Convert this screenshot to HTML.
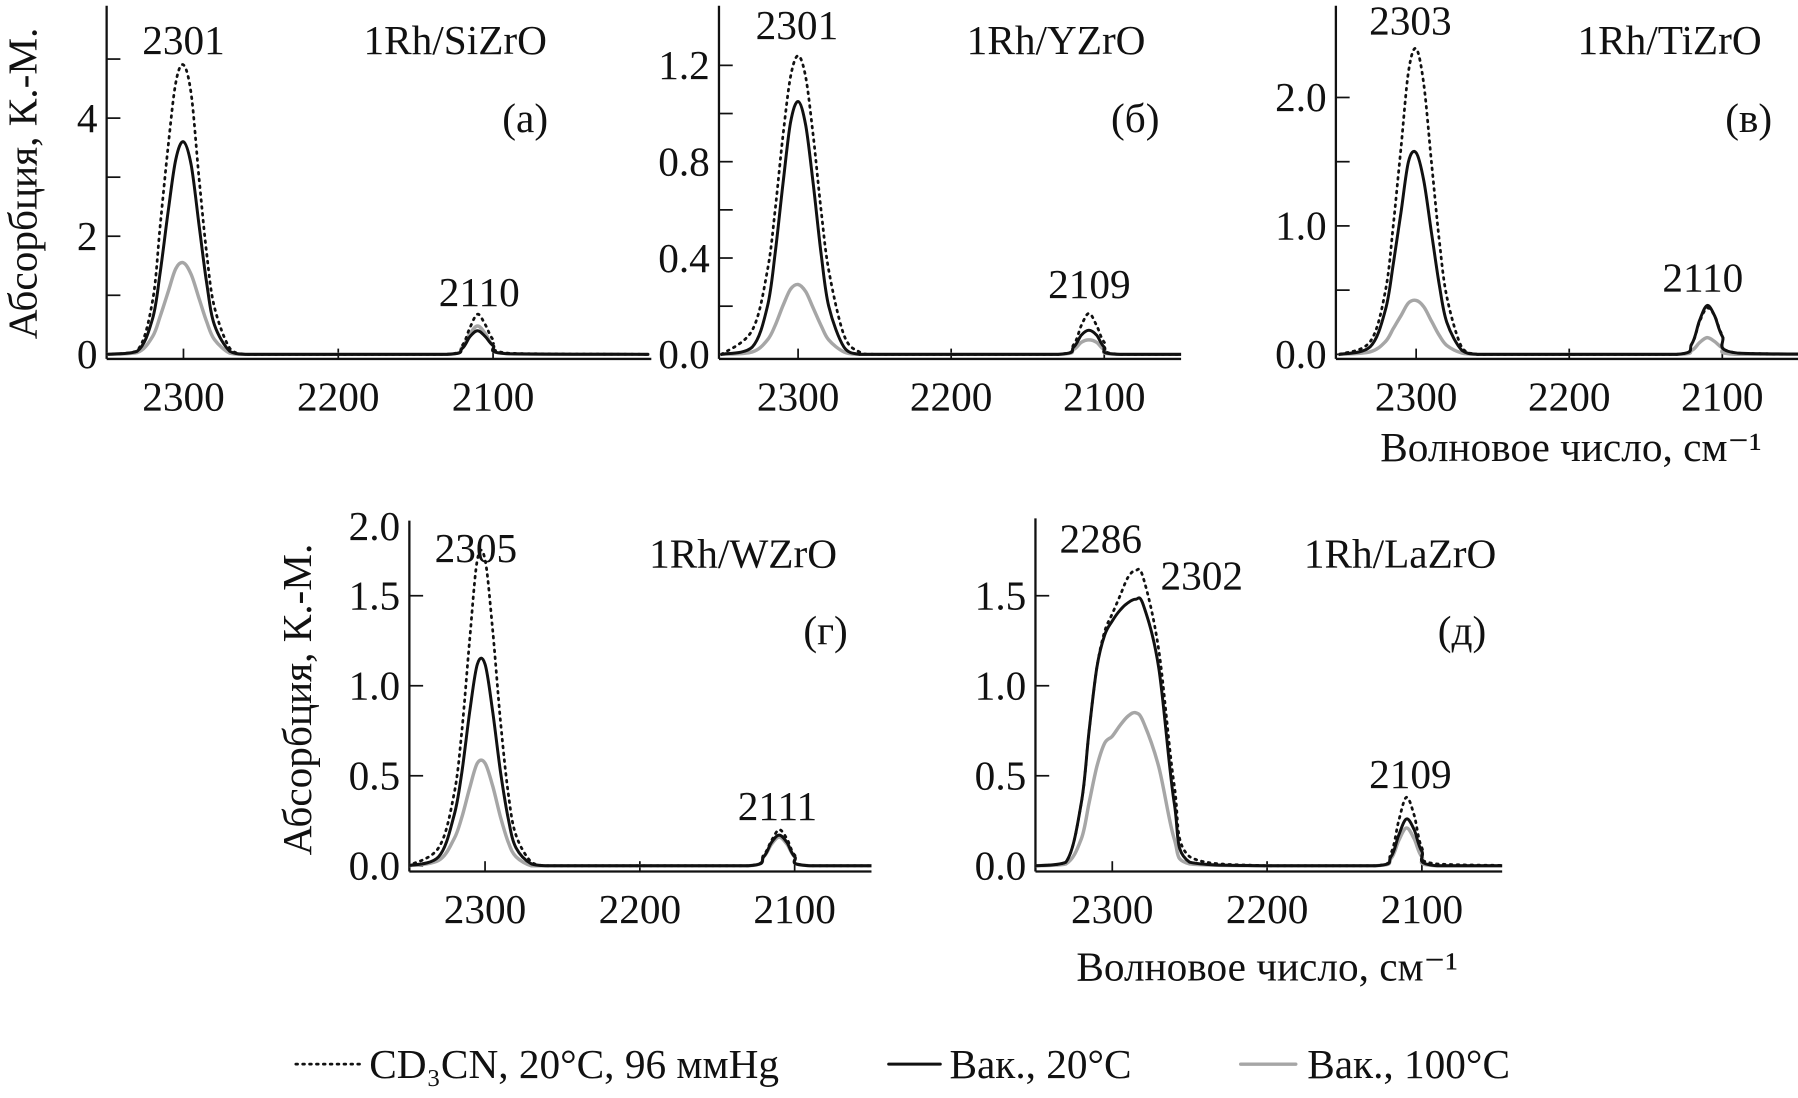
<!DOCTYPE html>
<html><head><meta charset="utf-8"><style>
html,body{margin:0;padding:0;background:#fff}
svg{display:block}
text{font-family:"Liberation Serif",serif;fill:#111}
</style></head><body>
<svg id="chart" width="1798" height="1098" viewBox="0 0 1568 957.5" preserveAspectRatio="none" xmlns="http://www.w3.org/2000/svg"></svg>
<script>
// shared wavenumber grid
const wavenumbers=[2350,2330,2320,2315,2310,2305,2300,2295,2290,2285,2280,2270,2260,2250,2200,2130,2120,2115,2110,2105,2100,2090,2000];
// panel a: 1Rh/SiZrO
const aDotted=[0,0.06,0.9,2.2,3.5,4.6,4.9,4.4,3.0,1.7,0.8,0.1,0,0,0,0,0.15,0.45,0.68,0.5,0.25,0.02,0];
const aBlack=[0,0.05,0.6,1.4,2.4,3.3,3.6,3.2,2.2,1.2,0.5,0.05,0,0,0,0,0.1,0.3,0.4,0.3,0.15,0.01,0];
const aGray=[0,0.03,0.3,0.65,1.05,1.45,1.55,1.35,0.95,0.55,0.25,0.02,0,0,0,0,0.12,0.35,0.48,0.35,0.15,0.01,0];
// panel b: 1Rh/YZrO
const bDotted=[0,0.1,0.35,0.6,0.9,1.15,1.24,1.15,0.9,0.6,0.35,0.08,0.01,0,0,0,0.04,0.12,0.17,0.12,0.05,0,0];
const bBlack=[0,0.03,0.2,0.42,0.7,0.96,1.05,0.95,0.7,0.42,0.2,0.03,0,0,0,0,0.03,0.08,0.1,0.08,0.03,0,0];
const bGray=[0,0.01,0.06,0.12,0.2,0.27,0.29,0.26,0.19,0.12,0.06,0.01,0,0,0,0,0.02,0.05,0.06,0.05,0.02,0,0];
// panel c: 1Rh/TiZrO
const cDotted=[0,0.1,0.5,1.0,1.6,2.2,2.38,2.1,1.5,0.9,0.45,0.05,0,0,0,0,0.08,0.25,0.36,0.3,0.15,0.01,0];
const cBlack=[0,0.06,0.35,0.7,1.1,1.5,1.57,1.35,0.95,0.55,0.25,0.03,0,0,0,0,0.08,0.26,0.38,0.3,0.14,0.01,0];
const cGray=[0,0.02,0.1,0.2,0.3,0.4,0.42,0.37,0.26,0.15,0.07,0.01,0,0,0,0,0.03,0.09,0.13,0.1,0.05,0,0];
// panel г: 1Rh/WZrO
const gDotted=[0,0.1,0.4,0.75,1.25,1.7,1.7,1.3,0.8,0.4,0.17,0.02,0,0,0,0,0.06,0.14,0.2,0.15,0.06,0,0];
const gBlack=[0,0.05,0.28,0.52,0.85,1.12,1.12,0.85,0.52,0.26,0.1,0.01,0,0,0,0,0.05,0.13,0.17,0.13,0.05,0,0];
const gGray=[0,0.03,0.15,0.27,0.43,0.57,0.57,0.44,0.27,0.13,0.05,0,0,0,0,0,0.05,0.12,0.16,0.12,0.05,0,0];
// panel д: 1Rh/LaZrO
const dDotted=[0,0.02,0.35,0.75,1.1,1.3,1.4,1.5,1.6,1.64,1.6,1.2,0.45,0.05,0,0,0.07,0.25,0.38,0.28,0.1,0.01,0];
const dBlack=[0,0.02,0.35,0.75,1.1,1.28,1.36,1.42,1.46,1.48,1.45,1.1,0.35,0.02,0,0,0.05,0.17,0.26,0.2,0.08,0,0];
const dGray=[0,0.01,0.15,0.35,0.55,0.68,0.72,0.78,0.83,0.85,0.8,0.55,0.15,0.01,0,0,0.04,0.14,0.21,0.15,0.05,0,0];
// tick values
const xTicks=[2300,2200,2100];
const aYTicks=[0,1,2,3,4,5], aYLabels=["0","","2","","4",""];
const bYTicks=[0,0.2,0.4,0.6,0.8,1.0,1.2], bYLabels=["0.0","","0.4","","0.8","","1.2"];
const cYTicks=[0,0.5,1.0,1.5,2.0], cYLabels=["0.0","","1.0","","2.0"];
const gYTicks=[0,0.5,1.0,1.5], gYLabels=["0.0","0.5","1.0","1.5"];
const dYTicks=[0,0.5,1.0,1.5], dYLabels=["0.0","0.5","1.0","1.5"];

const FS=36;
const NS="http://www.w3.org/2000/svg";
const svg=document.getElementById('chart');
const defs=document.createElementNS(NS,'defs');svg.appendChild(defs);
function mk(tag,attrs,parent){const e=document.createElementNS(NS,tag);for(const k in attrs)e.setAttribute(k,attrs[k]);(parent||svg).appendChild(e);return e;}
function txt(s,x,y,size,anchor,name,parent){const t=mk('text',{x:x,y:y,'font-size':size,'text-anchor':anchor||'middle'},parent);t.textContent=s;


return t;}
let clipN=0;
function panel(p){
  const g=mk('g',{});
  
  
  const sx=v=>p.x2300+(2300-v)*p.pxPerCm;
  const sy=v=>p.y0-v*p.pxPerUnit;
  const cid='clip'+(clipN++);
  const cp=mk('clipPath',{id:cid},defs);
  mk('rect',{x:p.ax,y:p.top-60,width:p.xEnd-p.ax,height:p.axY-p.top+60},cp);
  const ya=mk('line',{x1:p.ax,y1:p.top,x2:p.ax,y2:p.axY,stroke:'#111','stroke-width':2},g);
  
  
  const xa=mk('line',{x1:p.ax,y1:p.axY,x2:p.xEnd,y2:p.axY,stroke:'#111','stroke-width':2},g);
  
  
  xTicks.forEach(v=>{const l=mk('line',{x1:sx(v),y1:p.axY,x2:sx(v),y2:p.axY-9,stroke:'#111','stroke-width':1.5},g);
    
    
    txt(String(v),sx(v),p.axY+45,FS,'middle','x-tick-label',g);});
  p.yTicks.forEach((v,i)=>{const l=mk('line',{x1:p.ax,y1:sy(v),x2:p.ax+12,y2:sy(v),stroke:'#111','stroke-width':1.5},g);
    
    
    if(p.yLabels[i])txt(p.yLabels[i],p.ax-8,sy(v)+12,FS,'end','y-tick-label',g);});
  const cg=mk('g',{'clip-path':'url(#'+cid+')'},g);
  const series=[[p.gray,'#a6a6a6','',3,'series-vac-100c'],[p.black,'#111','',2.6,'series-vac-20c'],[p.dotted,'#111','1.5 4.5',2.4,'series-cd3cn']];
  series.forEach(([vals,col,dash,w,nm])=>{
    const pts=wavenumbers.map((v,i)=>[sx(v),sy(vals[i])]);
    let d='M'+pts[0][0].toFixed(1)+','+pts[0][1].toFixed(1);
    for(let i=0;i<pts.length-1;i++){const p0=pts[Math.max(0,i-1)],p1=pts[i],p2=pts[i+1],p3=pts[Math.min(pts.length-1,i+2)];
      const c1x=p1[0]+(p2[0]-p0[0])/6,c1y=p1[1]+(p2[1]-p0[1])/6,c2x=p2[0]-(p3[0]-p1[0])/6,c2y=p2[1]-(p3[1]-p1[1])/6;
      d+=` C${c1x.toFixed(1)},${Math.min(p.y0,c1y).toFixed(1)} ${c2x.toFixed(1)},${Math.min(p.y0,c2y).toFixed(1)} ${p2[0].toFixed(1)},${p2[1].toFixed(1)}`;}
    const path=mk('path',{d:d,fill:'none',stroke:col,'stroke-width':w,'stroke-dasharray':dash,'stroke-linecap':'round'},cg);
    
    
  });
  p.labels.forEach(([s,x,y,nm])=>txt(s,x,y,FS,'middle',nm,g));
}
panel({name:'panel-a-sizro',ax:93,top:5,axY:313,xEnd:568,x2300:160,pxPerCm:1.35,y0:309,pxPerUnit:51.5,yTicks:aYTicks,yLabels:aYLabels,dotted:aDotted,black:aBlack,gray:aGray,
 labels:[['2301',160,47,'peak-label'],['1Rh/SiZrO',397,47,'panel-title'],['(а)',458,115,'panel-letter'],['2110',418,267,'peak-label']]});
panel({name:'panel-b-yzro',ax:627,top:5,axY:313,xEnd:1030,x2300:696,pxPerCm:1.335,y0:309,pxPerUnit:210,yTicks:bYTicks,yLabels:bYLabels,dotted:bDotted,black:bBlack,gray:bGray,
 labels:[['2301',695,34,'peak-label'],['1Rh/YZrO',921,47,'panel-title'],['(б)',990,115,'panel-letter'],['2109',950,260,'peak-label']]});
panel({name:'panel-c-tizro',ax:1165,top:5,axY:313,xEnd:1568,x2300:1235,pxPerCm:1.335,y0:309,pxPerUnit:112,yTicks:cYTicks,yLabels:cYLabels,dotted:cDotted,black:cBlack,gray:cGray,
 labels:[['2303',1230,30,'peak-label'],['1Rh/TiZrO',1456,47,'panel-title'],['(в)',1525,115,'panel-letter'],['2110',1485,254,'peak-label']]});
panel({name:'panel-g-wzro',ax:357,top:454,axY:760,xEnd:760,x2300:423,pxPerCm:1.35,y0:755,pxPerUnit:157,yTicks:gYTicks,yLabels:gYLabels,dotted:gDotted,black:gBlack,gray:gGray,
 labels:[['2305',415,490,'peak-label'],['1Rh/WZrO',648,495,'panel-title'],['(г)',720,562,'panel-letter'],['2111',678,715,'peak-label']]});
txt('2.0',349,471,FS,'end','y-tick-label-top');
panel({name:'panel-d-lazro',ax:903,top:452,axY:760,xEnd:1310,x2300:970,pxPerCm:1.35,y0:755,pxPerUnit:157,yTicks:dYTicks,yLabels:dYLabels,dotted:dDotted,black:dBlack,gray:dGray,
 labels:[['2286',960,482,'peak-label'],['2302',1048,514,'peak-label'],['1Rh/LaZrO',1221,495,'panel-title'],['(д)',1275,562,'panel-letter'],['2109',1230,687,'peak-label']]});

// axis titles
let t=txt('Абсорбция, К.-М.',0,0,FS,'middle','y-axis-title');t.setAttribute('transform','translate(32,160) rotate(-90)');
t=txt('Абсорбция, К.-М.',0,0,FS,'middle','y-axis-title');t.setAttribute('transform','translate(271,610) rotate(-90)');
txt('Волновое число, см⁻¹',1370,402,FS,'middle','x-axis-title');
txt('Волновое число, см⁻¹',1105,855,FS,'middle','x-axis-title');

// legend
const lg=mk('g',{});


const legendItems=[[258,315,'#111','1.5 4.5',2.4,322,'CD₃CN, 20°C, 96 ммHg','legend-entry-cd3cn'],[775,820,'#111','',2.6,828,'Вак., 20°C','legend-entry-vac-20c'],[1082,1130,'#a6a6a6','',3,1140,'Вак., 100°C','legend-entry-vac-100c']];
legendItems.forEach(([x1,x2,col,dash,w,tx,s,nm])=>{
  const l=mk('line',{x1:x1,y1:928,x2:x2,y2:928,stroke:col,'stroke-width':w,'stroke-dasharray':dash,'stroke-linecap':'round'},lg);
  
  
  txt(s,tx,940,FS,'start',nm,lg);
});
</script>
</body></html>
